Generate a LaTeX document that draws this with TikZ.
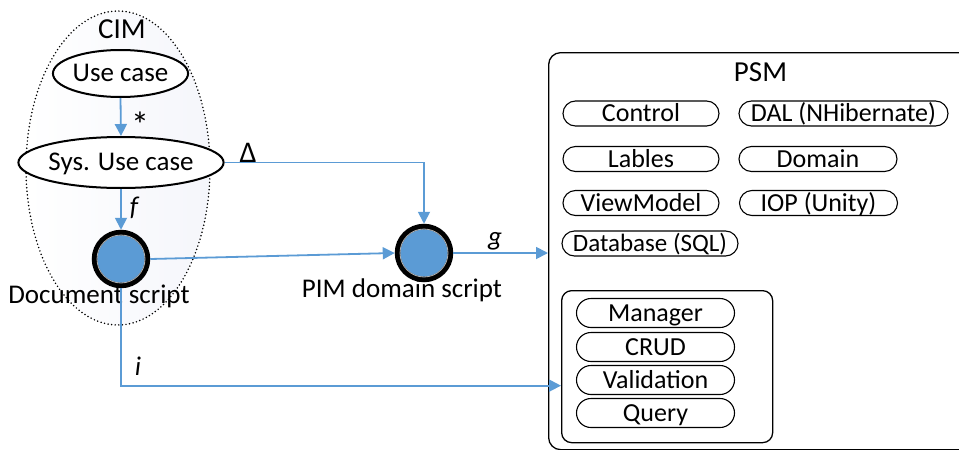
\documentclass[tikz,border=0pt]{standalone}
\usepackage{fontspec}
\setmainfont{Carlito}
\usetikzlibrary{shapes.geometric,arrows.meta}
\definecolor{lblue}{HTML}{5B9BD5}
\definecolor{cimfill}{HTML}{F5F6FB}
\begin{document}
\begin{tikzpicture}[x=1pt,y=-1pt,
  txt/.style={font=\fontsize{27}{27}\selectfont, inner sep=0pt},
  ttl/.style={font=\fontsize{29}{29}\selectfont, inner sep=0pt, anchor=base},
  conn/.style={draw=lblue, line width=1.8pt, -{Triangle[length=12pt,width=12pt]}},
  uc/.style={ellipse, draw=black, line width=2pt, fill=white, inner sep=0pt, text height=16pt, text depth=0pt, font=\fontsize{27}{27}\selectfont},
  script/.style={circle, draw=black, line width=5.5pt, fill=lblue, minimum size=53pt, inner sep=0pt},
  pill/.style={draw=black, line width=1.1pt, rounded corners=12.5pt, minimum height=25pt, inner sep=0pt, text height=16pt, text depth=0pt, font=\fontsize{26}{26}\selectfont},
  ipill/.style={pill, minimum width=158pt, minimum height=29pt, rounded corners=14.5pt},
  frame/.style={draw=black, line width=1.3pt, rounded corners=12pt, inner sep=0pt}
]
\useasboundingbox (0,0) rectangle (959,450);
\clip (0,0) rectangle (959,450);

% CIM region
\node[ellipse, draw=black, line width=1.7pt, dash pattern=on 0pt off 3.6pt, line cap=round,
      left color=white, right color=cimfill, minimum width=184pt, minimum height=314pt] (cim) at (118,168) {};
\node[ttl] (cimlab) at (122,38) {CIM};
\node[uc, minimum width=127pt, minimum height=47pt] (uc) at (120.5,73.5) {Use case};
\node[uc, minimum width=158pt, minimum height=51pt] (suc) at (121,162.5) {Sys. Use case};
\node[script] (doc) at (121,259) {};
\draw[gray!60, line width=0.8pt] (doc.center) circle (24);
\node[txt, anchor=base] (doclab) at (99,303) {Document script};

% PIM
\node[script] (pim) at (424,253) {};
\draw[gray!60, line width=0.8pt] (pim.center) circle (24);
\node[txt, anchor=base] (pimlab) at (402,297) {PIM domain script};

% PSM
\node[frame, minimum width=440pt, minimum height=397pt, anchor=north west] (psm) at (548,52) {};
\node[ttl] (psmlab) at (760.5,81) {PSM};
\node[pill, minimum width=156pt] (control) at (641,113.5) {Control};
\node[pill, minimum width=209pt] (dal) at (843.5,113.5) {DAL (NHibernate)};
\node[pill, minimum width=156pt] (lables) at (641,159) {Lables};
\node[pill, minimum width=158pt] (domain) at (818,159) {Domain};
\node[pill, minimum width=156pt] (viewmodel) at (641,203) {ViewModel};
\node[pill, minimum width=158pt] (iop) at (818.5,203) {IOP (Unity)};
\node[pill, minimum width=176pt, font=\fontsize{25}{25}\selectfont] (database) at (650,243.5) {Database (SQL)};

\node[frame, rounded corners=10pt, minimum width=211pt, minimum height=152pt, anchor=north west] (inner) at (561,290) {};
\node[ipill] (manager) at (655.5,313) {Manager};
\node[ipill] (crud) at (655.5,347) {CRUD};
\node[ipill] (validation) at (655.5,380) {Validation};
\node[ipill] (query) at (655.5,413) {Query};

% connectors
\draw[conn] (uc.south) -- (suc.north);
\draw[conn] (suc.south) -- (doc.north);
\draw[conn] (doc.east) -- (pim.west);
\draw[conn] (suc.east) -| (pim.north);
\draw[conn] (pim.east) -- (pim.east -| psm.west);
\draw[conn] (doc.south) |- ([yshift=-19pt]inner.west);

% labels
\node[txt, font=\fontsize{36}{36}\selectfont] (star) at (140,125) {*};
\node[txt, font=\fontsize{27}{27}\selectfont\itshape] (flab) at (134,208) {f};
\node[txt, font=\fontsize{30}{30}\selectfont] (dlab) at (248,153) {Δ};
\node[txt, anchor=base, font=\fontsize{27}{27}\selectfont\itshape] (glab) at (495,245) {g};
\node[txt, anchor=base, font=\fontsize{27}{27}\selectfont\itshape] (ilab) at (138,375) {i};
\end{tikzpicture}
\end{document}
